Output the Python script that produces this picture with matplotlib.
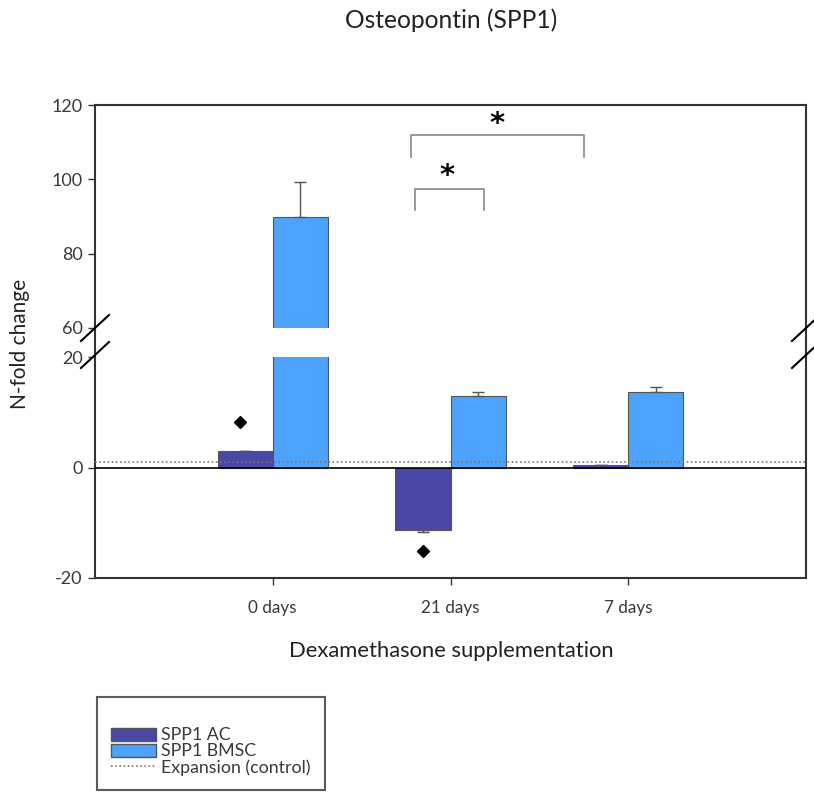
import matplotlib
matplotlib.use("Agg")
import matplotlib.pyplot as plt
from matplotlib.lines import Line2D
from matplotlib.patches import Patch
import numpy as np

plt.rcParams['font.family'] = ['Lato', 'DejaVu Sans']
plt.rcParams['axes.unicode_minus'] = False

categories = ["0 days", "21 days", "7 days"]
ac_values = [3.0, -11.4, 0.5]
ac_err = [0.0, 0.3, 0.0]
bmsc_values = [90.0, 12.9, 13.6]
bmsc_err = [9.2, 0.7, 1.0]
control_level = 1.0
diamond_values = [8.3, -15.2]
upper_ticks = [60, 80, 100, 120]
lower_ticks = [-20, 0, 20]

c_ac = "#4A47A5"
c_bmsc = "#4DA3FB"
edge = "#555555"
spine_c = "#333333"
txt_c = "#3a3a3a"

W, H = 814, 796
fig = plt.figure(figsize=(W / 100, H / 100), dpi=100)

def fr(x0, y0, x1, y1):
    return [x0 / W, 1 - y1 / H, (x1 - x0) / W, (y1 - y0) / H]

ax_up = fig.add_axes(fr(95, 105, 806, 328))
ax_lo = fig.add_axes(fr(95, 357, 806, 578))

x = np.arange(len(categories))
w = 0.31

for ax in (ax_up, ax_lo):
    ax.bar(x - w / 2, ac_values, w, color=c_ac, edgecolor=edge, linewidth=0.8, zorder=2,
           yerr=[[e if v < 0 else 0 for v, e in zip(ac_values, ac_err)],
                 [e if v >= 0 else 0 for v, e in zip(ac_values, ac_err)]],
           error_kw=dict(ecolor=edge, elinewidth=1, capsize=4.5, capthick=1))
    ax.bar(x + w / 2, bmsc_values, w, color=c_bmsc, edgecolor=edge, linewidth=0.8, zorder=2,
           yerr=[[0] * 3, bmsc_err],
           error_kw=dict(ecolor=edge, elinewidth=1, capsize=4.5, capthick=1))
    ax.set_xlim(-1, 3)
    for s in ax.spines.values():
        s.set_color(spine_c)
        s.set_linewidth(1.5)
    ax.tick_params(axis='y', colors=spine_c, labelcolor=txt_c, labelsize=13, length=5, width=1, pad=4)

ax_up.set_ylim(60, 120)
ax_up.set_yticks(upper_ticks)
ax_up.spines['bottom'].set_visible(False)
ax_up.set_xticks([])

ax_lo.set_ylim(-20, 20)
ax_lo.set_yticks(lower_ticks)
ax_lo.spines['top'].set_visible(False)
ax_lo.set_xticks(x)
ax_lo.set_xticklabels(categories)
ax_lo.tick_params(axis='x', colors=spine_c, labelcolor=txt_c, labelsize=12.3, length=5, width=1, pad=11)
ax_lo.axhline(0, color="black", linewidth=1.2, zorder=3)
ax_lo.axhline(control_level, color="#777777", linestyle=(0, (1, 1.5)), linewidth=1.2, zorder=4)

ax_lo.plot(x[:2] - w / 2 - np.array([0.03, 0.0]), diamond_values, linestyle='none', marker='D',
           color='black', markersize=6, zorder=5)

# significance brackets
br = dict(color="#888888", linewidth=1.2)
ax_up.plot([0.775, 0.775, 1.75, 1.75], [106, 112, 112, 106], **br)
ax_up.plot([0.80, 0.80, 1.19, 1.19], [91.7, 97.4, 97.4, 91.7], **br)
ax_up.text(1.26, 115, "*", ha='center', va='center', fontsize=21, fontweight='bold', color='black',
           family='DejaVu Sans')
ax_up.text(0.98, 100.8, "*", ha='center', va='center', fontsize=21, fontweight='bold', color='black',
           family='DejaVu Sans')

# break marks and spine connection
for xp in (95, 806):
    fig.add_artist(Line2D([xp / W, xp / W], [1 - 328 / H, 1 - 357 / H], color=spine_c, linewidth=1.5))
    for yp in (328, 355):
        fig.add_artist(Line2D([(xp - 14) / W, (xp + 14) / W], [1 - (yp + 13) / H, 1 - (yp - 13) / H],
                              color="black", linewidth=1.5))

fig.text(451 / W, 1 - 20 / H, "Osteopontin (SPP1)", ha='center', va='center', fontsize=17.7, color="#222222")
fig.text(451 / W, 1 - 651 / H, "Dexamethasone supplementation", ha='center', va='center', fontsize=15.8, color="#222222")
fig.text(20 / W, 1 - 344 / H, "N-fold change", ha='center', va='center', rotation=90, fontsize=15, color="#222222")

handles = [Patch(facecolor=c_ac, edgecolor=edge, label="SPP1 AC"),
           Patch(facecolor=c_bmsc, edgecolor=edge, label="SPP1 BMSC"),
           Line2D([], [], color="#777777", linestyle=(0, (1, 1.5)), linewidth=1.2, label="Expansion (control)")]
leg = fig.legend(handles=handles, loc='upper left', bbox_to_anchor=(97 / W, 1 - 697 / H),
                 fontsize=12.8, frameon=True, fancybox=False, edgecolor=spine_c,
                 title=" ", title_fontsize=13,
                 handlelength=2.5, handleheight=0.75, handletextpad=0.3, borderpad=0.8,
                 labelspacing=0.0, borderaxespad=0)
leg.get_frame().set_linewidth(1.5)
for t in leg.get_texts():
    t.set_color(txt_c)

fig.savefig("out.png", dpi=100)
